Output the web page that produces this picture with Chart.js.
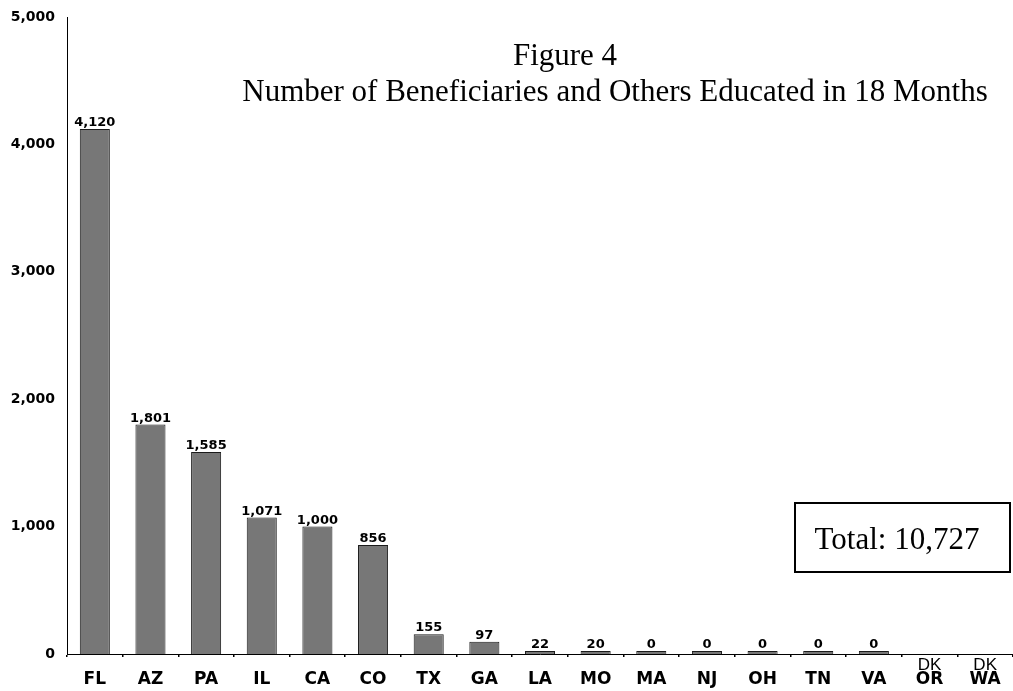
<!DOCTYPE html>
<html>
<head>
<meta charset="utf-8">
<script src="https://cdn.jsdelivr.net/npm/chart.js@4"></script>
<style>
  html, body { margin: 0; padding: 0; background: #fff; }
  #wrap { width: 1013px; height: 691px; position: relative; }
</style>
</head>
<body>
<div id="wrap"><canvas id="chart"></canvas></div>
<script>
// data
const states = ['FL', 'AZ', 'PA', 'IL', 'CA', 'CO', 'TX', 'GA', 'LA', 'MO', 'MA', 'NJ', 'OH', 'TN', 'VA', 'OR', 'WA'];
const educated = [4120, 1801, 1585, 1071, 1000, 856, 155, 97, 22, 20, 0, 0, 0, 0, 0, null, null];
const noteLabels = ['', '', '', '', '', '', '', '', '', '', '', '', '', '', '', 'DK', 'DK'];
const yTicks = [0, 1000, 2000, 3000, 4000, 5000];
const titleLines = ['Figure 4', 'Number of Beneficiaries and Others Educated in 18 Months'];
const totalText = 'Total: 10,727';

const BOLD = '"DejaVu Sans", sans-serif';
const SERIF = '"Liberation Serif", "Times New Roman", serif';

// value labels on top of bars + DK notes under the axis
const barLabels = {
    id: 'barLabels',
    afterDatasetsDraw(chart) {
        const ctx = chart.ctx;
        const meta = chart.getDatasetMeta(0);
        const yScale = chart.scales.y;
        ctx.save();
        ctx.textAlign = 'center';
        ctx.textBaseline = 'alphabetic';
        ctx.fillStyle = '#000';
        meta.data.forEach((bar, i) => {
            const v = educated[i];
            if (v === null) {
                if (noteLabels[i]) {
                    ctx.font = '17px "Liberation Sans", Arial, sans-serif';
                    ctx.fillText(noteLabels[i], bar.x, yScale.getPixelForValue(0) + 16);
                }
                return;
            }
            ctx.font = 'bold 13px ' + BOLD;
            ctx.fillText(v.toLocaleString('en-US'), bar.x, bar.y - 3);
        });
        ctx.restore();
    }
};

// title text and the total box
const annotations = {
    id: 'annotations',
    afterDraw(chart) {
        const ctx = chart.ctx;
        ctx.save();
        ctx.fillStyle = '#000';
        ctx.textAlign = 'center';
        ctx.textBaseline = 'alphabetic';
        ctx.font = '31px ' + SERIF;
        ctx.fillText(titleLines[0], 565, 65);
        ctx.fillText(titleLines[1], 615, 101);

        ctx.strokeStyle = '#000';
        ctx.lineWidth = 2;
        ctx.strokeRect(795, 503, 215, 69);
        ctx.fillText(totalText, 897, 549);
        ctx.restore();
    }
};

new Chart(document.getElementById('chart'), {
    type: 'bar',
    data: {
        labels: states,
        datasets: [{
            data: educated,
            backgroundColor: '#777777',
            borderColor: '#1a1a1a',
            borderWidth: 1,
            borderSkipped: 'bottom',
            minBarLength: 3,
            categoryPercentage: 1,
            barPercentage: 0.54
        }]
    },
    options: {
        responsive: true,
        maintainAspectRatio: false,
        animation: false,
        layout: { padding: { top: 17, right: 0, left: 0, bottom: 0 } },
        plugins: {
            legend: { display: false },
            tooltip: { enabled: false }
        },
        scales: {
            x: {
                grid: {
                    display: true,
                    drawOnChartArea: false,
                    drawTicks: true,
                    tickLength: 3,
                    offset: true,
                    color: '#000',
                    lineWidth: 1.5
                },
                border: { display: true, color: '#000', width: 1 },
                ticks: {
                    color: '#000',
                    font: { family: BOLD, size: 17, weight: 'bold' },
                    padding: 12,
                    maxRotation: 0,
                    autoSkip: false
                },
                afterFit(scale) { scale.height = 37; }
            },
            y: {
                min: 0,
                max: 5000,
                grid: { display: false, drawTicks: false },
                border: { display: true, color: '#000', width: 1 },
                afterBuildTicks(scale) { scale.ticks = yTicks.map(v => ({ value: v })); },
                ticks: {
                    color: '#000',
                    font: { family: BOLD, size: 14, weight: 'bold' },
                    padding: 12,
                    callback: v => v.toLocaleString('en-US')
                },
                afterFit(scale) {
                    scale.width = 67;
                    scale.paddingTop = 0;
                    scale.paddingBottom = 0;
                }
            }
        }
    },
    plugins: [barLabels, annotations]
});
</script>
</body>
</html>
